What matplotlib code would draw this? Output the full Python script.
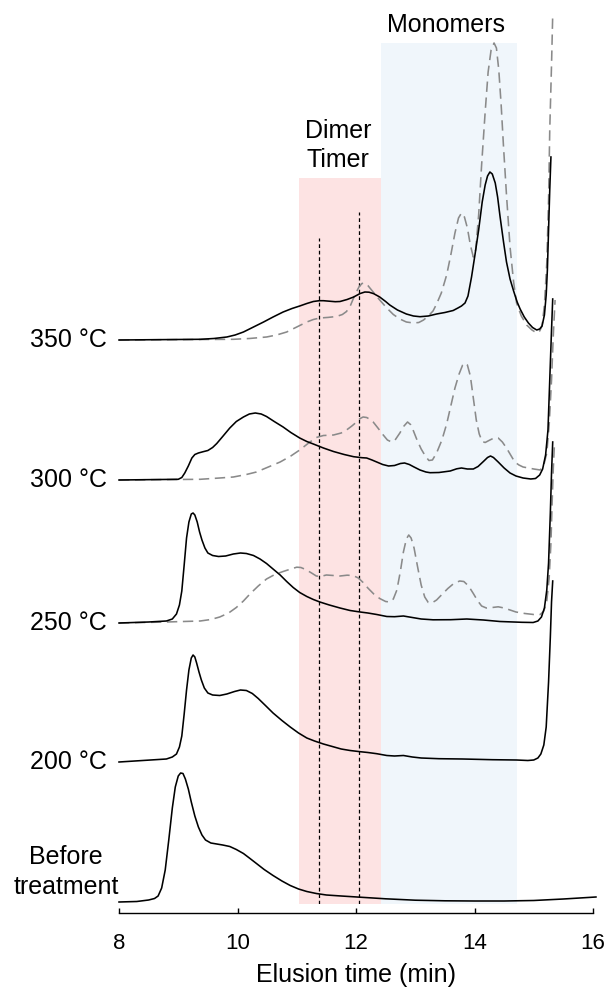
import matplotlib
matplotlib.use("Agg")
import matplotlib.pyplot as plt
import matplotlib.transforms as mtransforms

plt.rcParams['font.family'] = ['Liberation Sans', 'DejaVu Sans']

# ---- chromatogram traces: elution time (min) and detector response (a.u.) ----
before_t = [8.0, 8.3, 8.5, 8.6, 8.66, 8.72, 8.78, 8.84, 8.9, 8.95, 9.0, 9.04, 9.08, 9.12, 9.17,
            9.22, 9.28, 9.34, 9.4, 9.46, 9.55, 9.65, 9.75, 9.87, 9.98, 10.1, 10.2, 10.32, 10.45,
            10.6, 10.75, 10.89, 11.03, 11.17, 11.33, 11.5, 11.75, 12.07, 12.5, 13.0, 13.5, 14.0,
            14.5, 15.0, 15.5, 16.05]
before_y = [0, 0.5, 2, 3.5, 6, 14, 32, 62, 94, 115, 126, 129, 128.5, 123, 113,
            100, 86, 75, 67, 62, 59, 58, 57, 55.5, 52.5, 48.5, 44, 38.5, 32.5,
            26.5, 21, 16.5, 13, 10.5, 8.5, 7, 6, 4.8, 3.2, 1.8, 1.2, 1,
            1, 1.5, 3, 5]

c200_t = [8.0, 8.4, 8.8, 8.9, 8.97, 9.02, 9.06, 9.1, 9.14, 9.18, 9.22, 9.25, 9.28, 9.31, 9.35,
          9.39, 9.44, 9.5, 9.58, 9.7, 9.82, 9.95, 10.05, 10.15, 10.25, 10.35, 10.48, 10.6,
          10.75, 10.89, 11.03, 11.17, 11.3, 11.45, 11.6, 11.75, 11.9, 12.07, 12.2, 12.35,
          12.52, 12.65, 12.8, 12.95, 13.1, 13.4, 13.8, 14.3, 14.71, 14.9, 15.0, 15.07, 15.12,
          15.17, 15.21, 15.25, 15.28, 15.3, 15.32]
c200_y = [0, 1.5, 3, 5, 8, 15, 26, 48, 72, 92, 104, 107, 105, 99, 90,
          82, 74, 69, 67, 66.5, 68, 70.5, 72, 71.5, 68.5, 63.5, 56, 49,
          41.5, 35, 29, 24, 21, 18, 15.5, 13, 11.5, 10.3, 9.5, 8.3,
          6.5, 6, 6.5, 5, 4, 3.3, 3, 2.3, 2, 1.5, 2, 4, 8,
          17, 35, 80, 125, 160, 181]

c250_t = [8.0, 8.5, 8.8, 8.9, 8.97, 9.02, 9.06, 9.1, 9.14, 9.18, 9.22, 9.25, 9.28, 9.32, 9.36,
          9.4, 9.45, 9.5, 9.58, 9.68, 9.8, 9.93, 10.05, 10.15, 10.27, 10.38, 10.49, 10.6,
          10.72, 10.83, 10.94, 11.05, 11.17, 11.28, 11.39, 11.55, 11.73, 11.9, 12.07, 12.2,
          12.35, 12.52, 12.65, 12.8, 12.95, 13.1, 13.3, 13.6, 13.87, 14.15, 14.43, 14.8, 14.99,
          15.07, 15.13, 15.18, 15.22, 15.25, 15.28, 15.3, 15.32]
c250_y = [0, 1, 2, 4, 9, 18, 32, 58, 85, 101, 109, 110, 108, 101, 91,
          83, 75, 70, 67.5, 66.5, 67, 69, 70, 69.5, 67.5, 64, 59.5, 54,
          48, 41.5, 35.5, 30.5, 26.5, 23.5, 21, 18, 15, 12.5, 11, 10,
          8.5, 6.5, 6.3, 7, 5.5, 4, 3.2, 3.3, 4, 3, 1.5, 0.7, 0.5,
          2, 6, 15, 33, 60, 110, 150, 181]

c250d_t = [8.0, 8.8, 9.37, 9.55, 9.7, 9.85, 9.98, 10.1, 10.21, 10.35, 10.49, 10.63, 10.77, 10.9,
           11.0, 11.07, 11.15, 11.25, 11.33, 11.4, 11.5, 11.62, 11.73, 11.85, 11.95, 12.04,
           12.12, 12.2, 12.3, 12.4, 12.5, 12.57, 12.63, 12.69, 12.75, 12.8, 12.85, 12.89,
           12.93, 12.98, 13.04, 13.1, 13.16, 13.22, 13.28, 13.36, 13.45, 13.55, 13.65, 13.75,
           13.82, 13.9, 13.98, 14.05, 14.12, 14.2, 14.3, 14.4, 14.5, 14.6, 14.7, 14.85, 15.0,
           15.11, 15.17, 15.22, 15.26, 15.29, 15.31, 15.33, 15.35]
c250d_y = [0, 1, 2, 3.5, 6, 10, 15.5, 22, 29, 37, 44, 48.5, 51.5, 54,
           55.8, 55.5, 53.5, 50, 47, 46.5, 48, 47.5, 47, 47.8, 47.5, 45,
           40.5, 35, 29, 24.5, 21.5, 21, 24, 33, 52, 71, 84, 88,
           85, 75, 56, 38, 26, 20.5, 20, 23, 28.5, 34.5, 39.5, 42,
           41.5, 37, 29.5, 22.5, 17, 15, 15.5, 16.2, 15, 13, 11, 9.5, 8.5,
           8.5, 12, 22, 45, 80, 120, 155, 180]

c300_t = [8.0, 9.0, 9.06, 9.11, 9.17, 9.23, 9.28, 9.34, 9.42, 9.5, 9.58, 9.65, 9.75, 9.87, 9.98,
          10.1, 10.2, 10.3, 10.4, 10.49, 10.62, 10.77, 10.9, 11.05, 11.17, 11.28, 11.45, 11.62,
          11.8, 11.96, 12.1, 12.18, 12.27, 12.35, 12.45, 12.55, 12.65, 12.75, 12.82, 12.9,
          12.97, 13.08, 13.18, 13.25, 13.4, 13.59, 13.7, 13.78, 13.88, 13.98, 14.06, 14.15,
          14.22, 14.27, 14.32, 14.4, 14.5, 14.6, 14.7, 14.82, 14.95, 15.03, 15.1, 15.15, 15.2,
          15.24, 15.27, 15.3, 15.32]
c300_y = [0, 0.7, 2.5, 7, 14, 22, 25.5, 27, 28.3, 29.5, 32.5, 36.5, 43.5, 52, 58.5,
          63, 66, 67, 66, 63.5, 58.5, 53, 47.5, 42, 38.5, 36, 32, 28.5,
          25.5, 23.3, 22.3, 22, 20, 18, 15.5, 14, 14.5, 16.5, 17, 15.5,
          13.3, 10, 8, 7.3, 7.5, 9, 11.2, 12, 11, 11, 13.5, 18.5,
          22.5, 24, 22.5, 18, 12, 7, 4, 2, 1, 1.5, 5, 11, 25,
          50, 100, 150, 181]

c300d_t = [8.0, 9.37, 9.7, 9.93, 10.15, 10.32, 10.5, 10.72, 10.9, 11.05, 11.2, 11.33, 11.45,
           11.62, 11.75, 11.84, 11.93, 12.01, 12.07, 12.12, 12.18, 12.24, 12.29, 12.37, 12.46,
           12.53, 12.6, 12.66, 12.74, 12.81, 12.87, 12.92, 12.97, 13.03, 13.1, 13.17, 13.23,
           13.29, 13.36, 13.45, 13.53, 13.6, 13.67, 13.74, 13.8, 13.84, 13.88, 13.93, 13.98,
           14.03, 14.08, 14.13, 14.18, 14.26, 14.33, 14.4, 14.47, 14.54, 14.61, 14.68, 14.75,
           14.82, 15.0, 15.11, 15.17, 15.22, 15.26, 15.3, 15.33, 15.36]
c300d_y = [0, 0.7, 2, 3, 5.5, 8, 12.5, 18, 24, 30, 37, 42.5, 44.5,
           45, 47, 50, 54, 58, 61.5, 63, 62.5, 60.5, 58, 52, 45,
           40, 38, 40, 47, 54, 58, 55.5, 49, 40, 31, 24, 19.5,
           20, 27, 40, 56, 74, 92, 106, 115, 117, 115, 104, 82,
           60, 46, 38.5, 37.5, 40, 42, 42, 38, 32, 25, 18, 15,
           13, 11, 10, 15, 27, 55, 100, 145, 180]

c350_t = [8.0, 9.37, 9.6, 9.82, 9.96, 10.1, 10.27, 10.44, 10.6, 10.77, 10.92, 11.05, 11.17,
          11.28, 11.38, 11.45, 11.55, 11.65, 11.73, 11.85, 11.96, 12.07, 12.15, 12.22, 12.3,
          12.4, 12.5, 12.57, 12.7, 12.85, 12.97, 13.08, 13.22, 13.36, 13.5, 13.64, 13.72,
          13.78, 13.84, 13.89, 13.95, 14.01, 14.07, 14.13, 14.18, 14.22, 14.26, 14.3, 14.35,
          14.39, 14.43, 14.49, 14.54, 14.6, 14.66, 14.72, 14.77, 14.84, 14.91, 14.98, 15.05,
          15.1, 15.14, 15.18, 15.21, 15.23, 15.25, 15.27, 15.29]
c350_y = [0, 0.7, 1.5, 3, 5, 8, 13, 18, 23, 28, 31.5, 34, 36.5,
          38.5, 39.3, 39.3, 38.8, 38.3, 38.5, 40.5, 43, 46.5, 48, 47.8, 46.3,
          43, 38.5, 35, 30, 26, 24, 23.3, 24, 26, 27.5, 29.5, 32,
          34, 37, 44, 63, 86, 110, 138, 155, 164, 168, 166, 157,
          143, 124, 98, 78, 61, 49, 38, 31, 23, 17, 12.5, 10,
          11, 14, 25, 45, 70, 110, 150, 183]

c350d_t = [8.0, 9.93, 10.2, 10.49, 10.66, 10.83, 11.0, 11.17, 11.28, 11.39, 11.53, 11.67, 11.77,
           11.84, 11.91, 11.98, 12.05, 12.1, 12.15, 12.2, 12.29, 12.4, 12.52, 12.63, 12.74,
           12.85, 12.97, 13.06, 13.14, 13.22, 13.3, 13.36, 13.44, 13.53, 13.6, 13.67, 13.73,
           13.78, 13.83, 13.88, 13.93, 13.98, 14.02, 14.07, 14.12, 14.18, 14.23, 14.28, 14.33,
           14.37, 14.41, 14.45, 14.49, 14.54, 14.6, 14.66, 14.71, 14.79, 14.88, 14.97, 15.05,
           15.1, 15.14, 15.18, 15.22, 15.25, 15.27, 15.3, 15.32]
c350d_y = [0, 0.7, 1.5, 3, 5, 8, 13, 18, 20.5, 22, 22.6, 23.5, 25.5,
           28.5, 35, 45, 53, 56.5, 57, 54.5, 48, 40, 32, 25.5, 21,
           18, 17, 17.5, 20, 24, 29, 36, 47, 65, 85, 107, 122,
           127, 123, 112, 95, 83, 90, 125, 175, 228, 268, 290, 297,
           292, 270, 235, 193, 145, 93, 58, 37, 24, 15, 10, 7,
           9, 14, 35, 77, 140, 210, 275, 325]

sample_labels = ["Before\ntreatment", "200 °C", "250 °C", "300 °C", "350 °C"]

# time windows of the product classes
dimer_window = (11.03, 12.43)
monomer_window = (12.43, 14.71)
reference_times = [11.37, 12.05]

# ---- layout ----
stack_offsets = [2, 142, 281, 424, 564]     # vertical offset of each trace
dimer_top, monomer_top, ref_tops = 726, 861, [666, 692]

fig = plt.figure(figsize=(6.09, 9.88), dpi=100)
ax = fig.add_axes([119 / 609, 84 / 988, 474 / 609, 904 / 988])
ax.set_xlim(8, 16)
ax.set_ylim(0, 904)

ax.fill_between(dimer_window, 0, dimer_top, color="#fde3e3", lw=0, zorder=0)
ax.fill_between(monomer_window, 0, monomer_top, color="#f0f6fb", lw=0, zorder=0)
for t, top in zip(reference_times, ref_tops):
    ax.plot([t, t], [0, top], color="black", lw=0.9, ls=(0, (3, 2.2)), zorder=1)

solid_color, dash_color = "black", "#8a8a8a"
lw = 1.15
dash = (0, (6.5, 3.5))

traces_solid = [(before_t, before_y), (c200_t, c200_y), (c250_t, c250_y),
                (c300_t, c300_y), (c350_t, c350_y)]
traces_dash = {2: (c250d_t, c250d_y), 3: (c300d_t, c300d_y), 4: (c350d_t, c350d_y)}

for i, (t, y) in enumerate(traces_solid):
    off = stack_offsets[i]
    if i in traces_dash:
        td, yd = traces_dash[i]
        ax.plot(td, [v + off for v in yd], color=dash_color, lw=lw, ls=dash, zorder=2,
                solid_joinstyle="round", clip_on=False)
    ax.plot(t, [v + off for v in y], color=solid_color, lw=lw, zorder=3,
            solid_joinstyle="round", clip_on=False)

# sample labels left of the traces
trans = mtransforms.blended_transform_factory(ax.transAxes, ax.transData)
for i, lab in enumerate(sample_labels):
    if "\n" in lab:
        ax.text(-0.112, stack_offsets[i] + 30, lab, transform=trans, ha="center",
                va="center", fontsize=18, multialignment="center", linespacing=1.3)
    else:
        ax.text(-0.025, stack_offsets[i], lab, transform=trans, ha="right",
                va="center", fontsize=18)

ax.text(sum(dimer_window) / 2 - 0.03, dimer_top + 6, "Dimer\nTimer", ha="center",
        va="bottom", fontsize=18, linespacing=1.25)
ax.text(sum(monomer_window) / 2 - 0.05, monomer_top + 6, "Monomers", ha="center",
        va="bottom", fontsize=18)

for s in ["left", "right", "top"]:
    ax.spines[s].set_visible(False)
ax.spines["bottom"].set_position(("outward", 6.5))
ax.spines["bottom"].set_linewidth(1.0)
ax.set_yticks([])
ax.set_xticks([8, 10, 12, 14, 16])
ax.tick_params(axis="x", direction="in", length=3.6, width=1.0, pad=14.5, labelsize=16)
ax.set_xlabel("Elusion time (min)", fontsize=18, labelpad=6)
ax.patch.set_visible(False)

fig.savefig("out.png", dpi=100)
